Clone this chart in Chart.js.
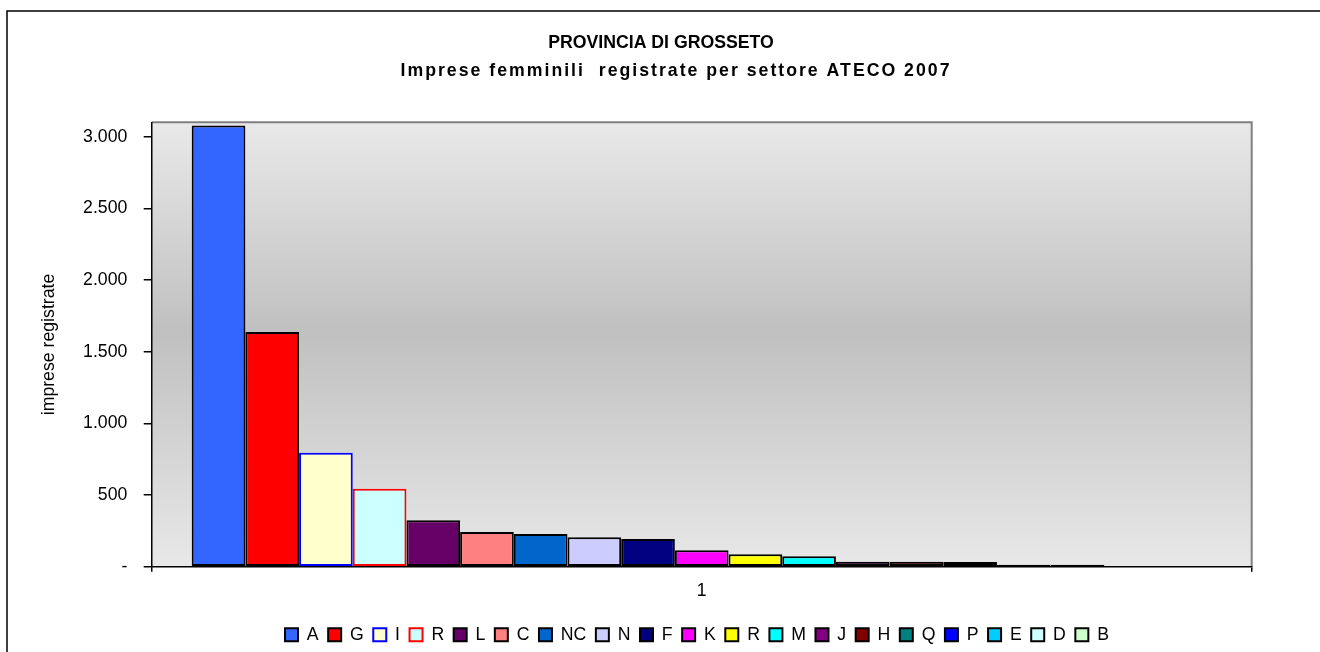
<!DOCTYPE html>
<html>
<head>
<meta charset="utf-8">
<script src="https://cdn.jsdelivr.net/npm/chart.js@4.4.1/dist/chart.umd.min.js"></script>
<style>
html,body{margin:0;padding:0;background:#fff;}
#wrap{width:1320px;height:652px;}
</style>
</head>
<body>
<div id="wrap"><canvas id="c" width="1320" height="652"></canvas></div>
<script>
// ---- data ----
const categories = ['1'];
const sectors = ['A','G','I','R','L','C','NC','N','F','K','R','M','J','H','Q','P','E','D','B'];
const registered = [3077,1638,795,544,324,242,228,205,193,114,87,73,35,34,33,14,14,0,0];
const yTicks = [0,500,1000,1500,2000,2500,3000];
const yMax = 3100;
const chartTitle = 'PROVINCIA DI GROSSETO';
const chartSubtitle = 'Imprese femminili  registrate per settore ATECO 2007';
const yAxisTitle = 'imprese registrate';

// ---- styles ----
const fills = ['#3366FF','#FF0000','#FFFFCC','#CCFFFF','#660066','#FF8080','#0066CC','#CCCCFF','#000080','#FF00FF','#FFFF00','#00FFFF','#800080','#800000','#008080','#0000FF','#00CCFF','#CCFFFF','#CCFFCC'];
const strokes = ['#000','#000','#0000FF','#FF0000','#000','#000','#000','#000','#000','#000','#000','#000','#000','#000','#000','#000','#000','#000','#000'];

const FONT = 'Liberation Sans, Arial, sans-serif';
const FS = 17.7;
Chart.defaults.font.family = FONT;
Chart.defaults.color = '#000';

const fmt = v => v === 0 ? '-' : String(v).replace(/\B(?=(\d{3})+(?!\d))/g, '.');

const bgPlugin = {
  id: 'bg',
  beforeDraw(chart) {
    const {ctx, chartArea: a} = chart;
    ctx.save();
    ctx.fillStyle = '#fff';
    ctx.fillRect(0, 0, chart.width, chart.height);
    ctx.strokeStyle = '#000';
    ctx.lineWidth = 1.5;
    ctx.beginPath();
    ctx.moveTo(7, chart.height);
    ctx.lineTo(7, 11);
    ctx.lineTo(chart.width, 11);
    ctx.stroke();
    const g = ctx.createLinearGradient(0, a.top, 0, a.bottom);
    g.addColorStop(0, '#E9E9E9');
    g.addColorStop(0.47, '#C0C0C0');
    g.addColorStop(1, '#E8E8E8');
    ctx.fillStyle = g;
    ctx.fillRect(a.left, a.top, a.right - a.left, a.bottom - a.top);
    ctx.strokeStyle = '#808080';
    ctx.lineWidth = 2;
    ctx.beginPath();
    ctx.moveTo(a.left, a.top);
    ctx.lineTo(a.right, a.top);
    ctx.lineTo(a.right, a.bottom);
    ctx.stroke();
    ctx.restore();
  }
};

const placePlugin = {
  id: 'place',
  afterLayout(chart) {
    const shift = (box, cx) => {
      if (!box) return;
      const d = cx - (box.left + box.right) / 2;
      box.left += d; box.right += d;
    };
    const spacing = (box, ls) => {
      if (!box || box._lsWrapped) return;
      const orig = box.draw;
      box.draw = function(...args) {
        const c = this.ctx;
        c.save();
        c.letterSpacing = ls;
        orig.apply(this, args);
        c.restore();
      };
      box._lsWrapped = true;
    };
    let tBox = null, sBox = null;
    chart.boxes.forEach(b => {
      if (b.options && b.options.text === chartTitle) tBox = b;
      if (b.options && b.options.text === chartSubtitle) sBox = b;
    });
    shift(tBox, 661);
    shift(sBox, 676);
    spacing(sBox, '2px');
    const lg = chart.legend;
    if (lg) {
      shift(lg, 697);
      lg.top += 1.5; lg.bottom += 1.5;
    }
  }
};

const datasets = sectors.map((s, i) => ({
  label: s,
  data: [registered[i]],
  backgroundColor: fills[i],
  borderColor: strokes[i],
  borderWidth: 2,
  borderSkipped: false,
  barPercentage: 1,
  categoryPercentage: 1020 / 1100
}));

new Chart(document.getElementById('c'), {
  type: 'bar',
  data: { labels: categories, datasets },
  plugins: [bgPlugin, placePlugin],
  options: {
    responsive: false,
    animation: false,
    devicePixelRatio: 1,
    layout: { padding: { left: 0, right: 68.3, top: 0, bottom: 0 } },
    plugins: {
      title: {
        display: true,
        text: chartTitle,
        color: '#000',
        font: { family: FONT, size: FS, weight: 'bold', lineHeight: '28px' },
        padding: { top: 29, bottom: 0 }
      },
      subtitle: {
        display: true,
        text: chartSubtitle,
        color: '#000',
        font: { family: FONT, size: FS, weight: 'bold', lineHeight: '28px' },
        padding: { top: 0, bottom: 37.3 }
      },
      legend: {
        display: true,
        position: 'bottom',
        labels: {
          boxWidth: 13,
          boxHeight: 13,
          padding: 9.5,
          color: '#000',
          font: { family: FONT, size: FS }
        }
      },
      tooltip: { enabled: false }
    },
    scales: {
      x: {
        afterFit: s => { s.height = 48.1; },
        ticks: { color: '#000', font: { family: FONT, size: FS }, padding: 8.5 },
        grid: { drawOnChartArea: false, drawTicks: true, tickLength: 5, color: '#000', lineWidth: 1.5, offset: true },
        border: { display: true, color: '#000', width: 1.5 }
      },
      y: {
        min: 0,
        max: yMax,
        afterBuildTicks: s => { s.ticks = yTicks.map(v => ({ value: v })); },
        afterFit: s => { s.width = 151.7; },
        ticks: { color: '#000', font: { family: FONT, size: FS }, padding: 16.4, callback: v => fmt(v) },
        grid: { drawOnChartArea: false, drawTicks: true, tickLength: 8, color: '#000', lineWidth: 1.5 },
        border: { display: true, color: '#000', width: 1.5 },
        title: {
          display: true,
          text: yAxisTitle,
          color: '#000',
          font: { family: FONT, size: FS },
          padding: { top: 38, bottom: 0 }
        }
      }
    }
  }
});
</script>
</body>
</html>
